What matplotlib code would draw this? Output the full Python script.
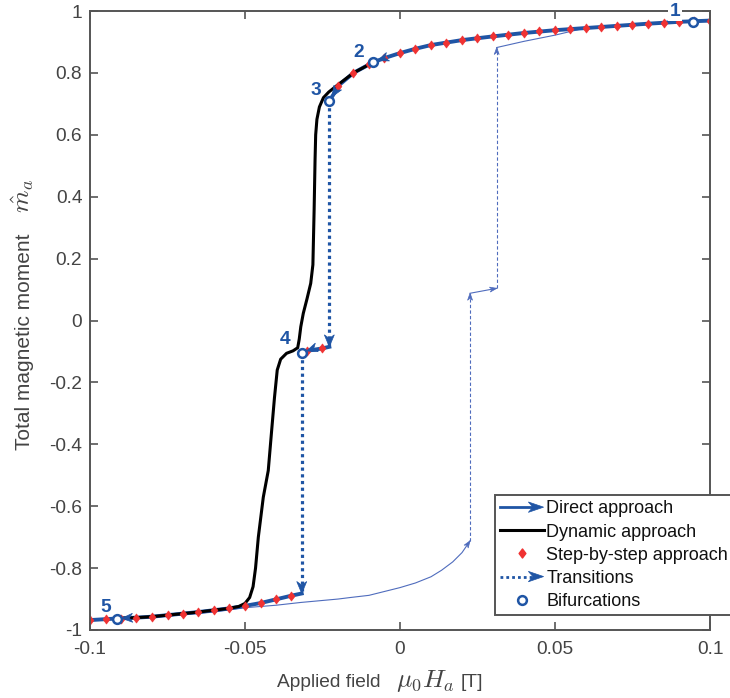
import numpy as np
import matplotlib
matplotlib.use("Agg")
import matplotlib.pyplot as plt
from matplotlib.lines import Line2D
from matplotlib.patches import Polygon
from matplotlib.legend_handler import HandlerBase
from matplotlib.path import Path

plt.rcParams['font.family'] = ['Liberation Sans', 'DejaVu Sans']
plt.rcParams['mathtext.fontset'] = 'cm'

# ---------------- data ----------------
# step-by-step approach (upper branch)
step_up_x = [0.100, 0.095, 0.090, 0.085, 0.080, 0.075, 0.070, 0.065, 0.060, 0.055,
             0.050, 0.045, 0.040, 0.035, 0.030, 0.025, 0.020, 0.015, 0.010, 0.005,
             0.000, -0.005, -0.010, -0.015, -0.020]
step_up_y = [0.969, 0.967, 0.965, 0.962, 0.959, 0.956, 0.952, 0.949, 0.945, 0.942,
             0.938, 0.934, 0.929, 0.924, 0.918, 0.912, 0.906, 0.898, 0.890, 0.878,
             0.864, 0.848, 0.828, 0.800, 0.758]
# step-by-step approach (middle branch)
step_mid_x = [-0.025, -0.030]
step_mid_y = [-0.090, -0.098]
# step-by-step approach (lower branch)
step_low_x = [-0.035, -0.040, -0.045, -0.050, -0.055, -0.060, -0.065, -0.070, -0.075,
              -0.080, -0.085, -0.090, -0.095, -0.100]
step_low_y = [-0.889, -0.901, -0.913, -0.922, -0.930, -0.936, -0.942, -0.947, -0.952,
              -0.957, -0.960, -0.963, -0.965, -0.968]

# direct approach segments
direct1_x = [0.100, 0.095, 0.090, 0.080, 0.070, 0.060, 0.050, 0.040, 0.030, 0.020,
             0.010, 0.005, 0.000, -0.005, -0.0087]
direct1_y = [0.969, 0.967, 0.965, 0.959, 0.952, 0.945, 0.938, 0.929, 0.918, 0.906,
             0.890, 0.878, 0.864, 0.848, 0.834]
direct2_x = [-0.0087, -0.015, -0.0195, -0.0228]
direct2_y = [0.834, 0.800, 0.762, 0.709]
direct3_x = [-0.0228, -0.025, -0.030, -0.0317]
direct3_y = [-0.085, -0.090, -0.098, -0.104]
direct4_x = [-0.0317, -0.035, -0.040, -0.045, -0.050, -0.055, -0.060, -0.065, -0.070,
             -0.075, -0.080, -0.085, -0.0914, -0.095, -0.100]
direct4_y = [-0.882, -0.889, -0.901, -0.913, -0.922, -0.930, -0.936, -0.942, -0.947,
             -0.952, -0.957, -0.960, -0.963, -0.965, -0.968]

# dynamic approach
dyn_x = [-0.0087, -0.0150, -0.0200, -0.0230, -0.0247, -0.0260, -0.0268, -0.0272, -0.0274,
         -0.0277, -0.0281, -0.0288, -0.0300, -0.0312, -0.0320, -0.0325, -0.0330, -0.0345,
         -0.0366, -0.0385, -0.0396, -0.0405, -0.0414, -0.0425, -0.0441, -0.0457, -0.0466,
         -0.0474, -0.0485, -0.0500, -0.0520, -0.0550, -0.0600, -0.0650, -0.0700, -0.0750,
         -0.0800, -0.0850, -0.0914]
dyn_y = [0.834, 0.800, 0.762, 0.738, 0.720, 0.690, 0.650, 0.600, 0.520,
         0.358, 0.180, 0.120, 0.070, 0.023, -0.020, -0.060, -0.088, -0.098,
         -0.106, -0.125, -0.160, -0.250, -0.355, -0.485, -0.571, -0.700, -0.800,
         -0.860, -0.895, -0.914, -0.924, -0.930, -0.936, -0.942, -0.947, -0.952,
         -0.957, -0.960, -0.963]

# transitions
trans1_x = [-0.0228, -0.0228]
trans1_y = [0.709, -0.085]
trans2_x = [-0.0317, -0.0317]
trans2_y = [-0.104, -0.882]

# bifurcations
bif_x = [0.0944, -0.0087, -0.0228, -0.0317, -0.0914]
bif_y = [0.965, 0.834, 0.709, -0.104, -0.963]
bif_labels = ['1', '2', '3', '4', '5']
lab_x = [0.0887, -0.0132, -0.0272, -0.0371, -0.0948]
lab_y = [1.000, 0.867, 0.742, -0.061, -0.928]

# return path (thin line)
ret_low_x = [-0.100, -0.090, -0.080, -0.070, -0.060, -0.050, -0.040, -0.032, -0.020,
             -0.016, -0.010, 0.000, 0.005, 0.010, 0.0134, 0.017, 0.020, 0.0226]
ret_low_y = [-0.968, -0.964, -0.958, -0.951, -0.942, -0.928, -0.920, -0.911, -0.900,
             -0.895, -0.888, -0.863, -0.848, -0.828, -0.807, -0.780, -0.750, -0.712]
ret_jump1_x = [0.0226, 0.0226]
ret_jump1_y = [-0.712, 0.088]
ret_mid_x = [0.0226, 0.0312]
ret_mid_y = [0.088, 0.104]
ret_jump2_x = [0.0312, 0.0312]
ret_jump2_y = [0.104, 0.882]
ret_top_x = [0.0312, 0.040, 0.050, 0.058, 0.065]
ret_top_y = [0.882, 0.902, 0.922, 0.941, 0.949]

xticks = [-0.1, -0.05, 0, 0.05, 0.1]
xticklabels = ['-0.1', '-0.05', '0', '0.05', '0.1']
yticks = [-1, -0.8, -0.6, -0.4, -0.2, 0, 0.2, 0.4, 0.6, 0.8, 1]
yticklabels = ['-1', '-0.8', '-0.6', '-0.4', '-0.2', '0', '0.2', '0.4', '0.6', '0.8', '1']

xlabel_text = 'Applied field'
xlabel_math = r'$\mu_0 H_a$'
xlabel_unit = '[T]'
ylabel_text = 'Total magnetic moment'
ylabel_math = r'$\hat{m}_a$'

legend_labels = ['Direct approach', 'Dynamic approach', 'Step-by-step approach',
                 'Transitions', 'Bifurcations']

# ---------------- style ----------------
BLUE = '#1f55a5'
THIN = '#4f6cbd'
RED = '#f03232'
TXT = '#444444'
AX = '#555555'
FS = 13.8
LFS = 13

W, H = 730, 698
fig = plt.figure(figsize=(W / 100, H / 100), dpi=100)
ax = fig.add_axes([90 / W, 1 - 630 / H, 620 / W, 619 / H])
ax.set_xlim(-0.1, 0.1)
ax.set_ylim(-1, 1)

diamond = Path([(0, 1), (0.75, 0), (0, -1), (-0.75, 0), (0, 1)],
               [Path.MOVETO, Path.LINETO, Path.LINETO, Path.LINETO, Path.CLOSEPOLY])


def arrowhead(p_from, p_to, color, length, width, back=0.0, notch=0.3, z=10):
    T = ax.transData
    a = T.transform(p_from)
    b = T.transform(p_to)
    d = (b - a) / np.hypot(*(b - a))
    n = np.array([-d[1], d[0]])
    tip = b - d * back
    base = tip - d * length
    pts = np.array([tip, base + n * width / 2, tip - d * length * (1 - notch),
                    base - n * width / 2])
    ax.add_patch(Polygon(T.inverted().transform(pts), closed=True, fc=color,
                         ec=color, lw=0.5, zorder=z))


# thin return path
ax.plot(ret_low_x, ret_low_y, color=THIN, lw=0.8, zorder=2)
ax.plot(ret_jump1_x, ret_jump1_y, color=THIN, lw=0.8, ls=(0, (3, 2)), zorder=2)
ax.plot(ret_mid_x, ret_mid_y, color=THIN, lw=0.8, zorder=2)
ax.plot(ret_jump2_x, ret_jump2_y, color=THIN, lw=0.8, ls=(0, (3, 2)), zorder=2)
ax.plot(ret_top_x, ret_top_y, color=THIN, lw=0.8, zorder=2)
arrowhead((ret_low_x[-2], ret_low_y[-2]), (ret_low_x[-1], ret_low_y[-1]), THIN, 7, 5, z=2)
arrowhead((ret_jump1_x[0], ret_jump1_y[0]), (ret_jump1_x[1], ret_jump1_y[1]), THIN, 7, 5, z=2)
arrowhead((ret_mid_x[0], ret_mid_y[0]), (ret_mid_x[1], ret_mid_y[1]), THIN, 7, 5, z=2)
arrowhead((ret_jump2_x[0], ret_jump2_y[0]), (ret_jump2_x[1], ret_jump2_y[1]), THIN, 7, 5, z=2)

# direct approach
ax.plot(direct1_x, direct1_y, color=BLUE, lw=2.8, solid_capstyle='butt', zorder=3)
ax.plot(direct2_x, direct2_y, color=BLUE, lw=2.8, zorder=3)
ax.plot(direct3_x, direct3_y, color=BLUE, lw=2.8, zorder=3)
ax.plot(direct4_x, direct4_y, color=BLUE, lw=2.8, zorder=3)

# dynamic approach
ax.plot(dyn_x, dyn_y, color='black', lw=2.2, zorder=4, solid_joinstyle='round')

# transitions
ax.plot(trans1_x, trans1_y, color=BLUE, lw=2.3, ls=(0, (1, 1.1)), zorder=5)
ax.plot(trans2_x, trans2_y, color=BLUE, lw=2.3, ls=(0, (1, 1.1)), zorder=5)
arrowhead((trans1_x[0], trans1_y[0]), (trans1_x[1], trans1_y[1]), BLUE, 12, 10, z=6)
arrowhead((trans2_x[0], trans2_y[0]), (trans2_x[1], trans2_y[1]), BLUE, 12, 10, z=6)

# step-by-step
ax.plot(step_up_x + step_mid_x + step_low_x, step_up_y + step_mid_y + step_low_y,
        ls='none', marker=diamond, ms=6.5, mfc=RED, mec=RED, mew=0.5, zorder=7)

# arrows into bifurcations
arrowhead((direct1_x[-2], direct1_y[-2]), (direct1_x[-1], direct1_y[-1]), BLUE, 11, 9, back=5, z=8)
arrowhead((direct2_x[-2], direct2_y[-2]), (direct2_x[-1], direct2_y[-1]), BLUE, 11, 9, back=5, z=8)
arrowhead((direct3_x[-2], direct3_y[-2]), (direct3_x[-1], direct3_y[-1]), BLUE, 11, 9, back=5, z=8)
arrowhead((direct4_x[-4], direct4_y[-4]), (direct4_x[-3], direct4_y[-3]), BLUE, 11, 9, back=5, z=8)

# bifurcations
ax.plot(bif_x, bif_y, ls='none', marker='o', ms=6.3, mfc='white', mec=BLUE, mew=1.8, zorder=9)
for lx, ly, t in zip(lab_x, lab_y, bif_labels):
    kw = dict(bbox=dict(fc='white', ec='none', pad=1)) if t == '1' else {}
    ax.text(lx, ly, t, color=BLUE, fontsize=FS, fontweight='bold', ha='center',
            va='center', zorder=12, clip_on=False, **kw)

# axes styling
ax.set_xticks(xticks)
ax.set_xticklabels(xticklabels)
ax.set_yticks(yticks)
ax.set_yticklabels(yticklabels)
ax.tick_params(direction='in', length=6, width=1.2, color=AX, labelcolor=TXT,
               labelsize=FS, top=True, right=True)
ax.tick_params(axis='x', pad=8)
ax.tick_params(axis='y', pad=5.5)
for s in ax.spines.values():
    s.set_color(AX)
    s.set_linewidth(1.4)
    s.set_zorder(11)

# axis labels (text + larger LaTeX-like math, as in the original)
fig.text(277 / W, 1 - 687 / H, xlabel_text, fontsize=FS, color=TXT, ha='left', va='baseline')
fig.text(396 / W, 1 - 687 / H, xlabel_math, fontsize=18.5, color=TXT, ha='left', va='baseline')
fig.text(461 / W, 1 - 687 / H, xlabel_unit, fontsize=FS, color=TXT, ha='left', va='baseline')
fig.text(30 / W, 1 - 450 / H, ylabel_text, fontsize=15, color=TXT, rotation=90,
         rotation_mode='anchor', ha='left', va='baseline')
fig.text(30 / W, 1 - 213 / H, ylabel_math, fontsize=18.5, color=TXT, rotation=90,
         rotation_mode='anchor', ha='left', va='baseline')


# legend
class HandlerArrow(HandlerBase):
    def __init__(self, ls):
        super().__init__()
        self.ls = ls

    def create_artists(self, legend, orig_handle, xdescent, ydescent, width, height,
                       fontsize, trans):
        y = height / 2 - ydescent
        x0 = -xdescent
        x1 = width - xdescent
        hl, hw = 11, 7.5
        line = Line2D([x0, x1 - hl * 0.7], [y, y], color=BLUE, lw=2.0, ls=self.ls,
                      transform=trans)
        head = Polygon([[x1, y], [x1 - hl, y + hw / 2], [x1 - 0.7 * hl, y],
                        [x1 - hl, y - hw / 2]], closed=True, fc=BLUE, ec=BLUE, lw=0.5,
                       transform=trans)
        return [line, head]


h_direct = Line2D([], [], color=BLUE)
h_dyn = Line2D([], [], color='black', lw=2.2)
h_step = Line2D([], [], ls='none', marker=diamond, ms=6.5, mfc=RED, mec=RED)
h_trans = Line2D([], [], color=BLUE, ls=':')
h_bif = Line2D([], [], ls='none', marker='o', ms=6.3, mfc='white', mec=BLUE, mew=1.8)

leg = ax.legend([h_direct, h_dyn, h_step, h_trans, h_bif], legend_labels,
                handler_map={h_direct: HandlerArrow('-'), h_trans: HandlerArrow((0, (1, 1.1)))},
                loc='upper left', bbox_to_anchor=(0.653, 0.218), borderaxespad=0,
                fontsize=LFS, frameon=True, fancybox=False, framealpha=1,
                edgecolor=AX, handlelength=2.4, handletextpad=0.15, labelspacing=0.34,
                borderpad=0.3)
leg.get_frame().set_linewidth(1.4)
leg.set_zorder(20)
for t in leg.get_texts():
    t.set_color('#111111')

fig.savefig('out.png', dpi=100)
